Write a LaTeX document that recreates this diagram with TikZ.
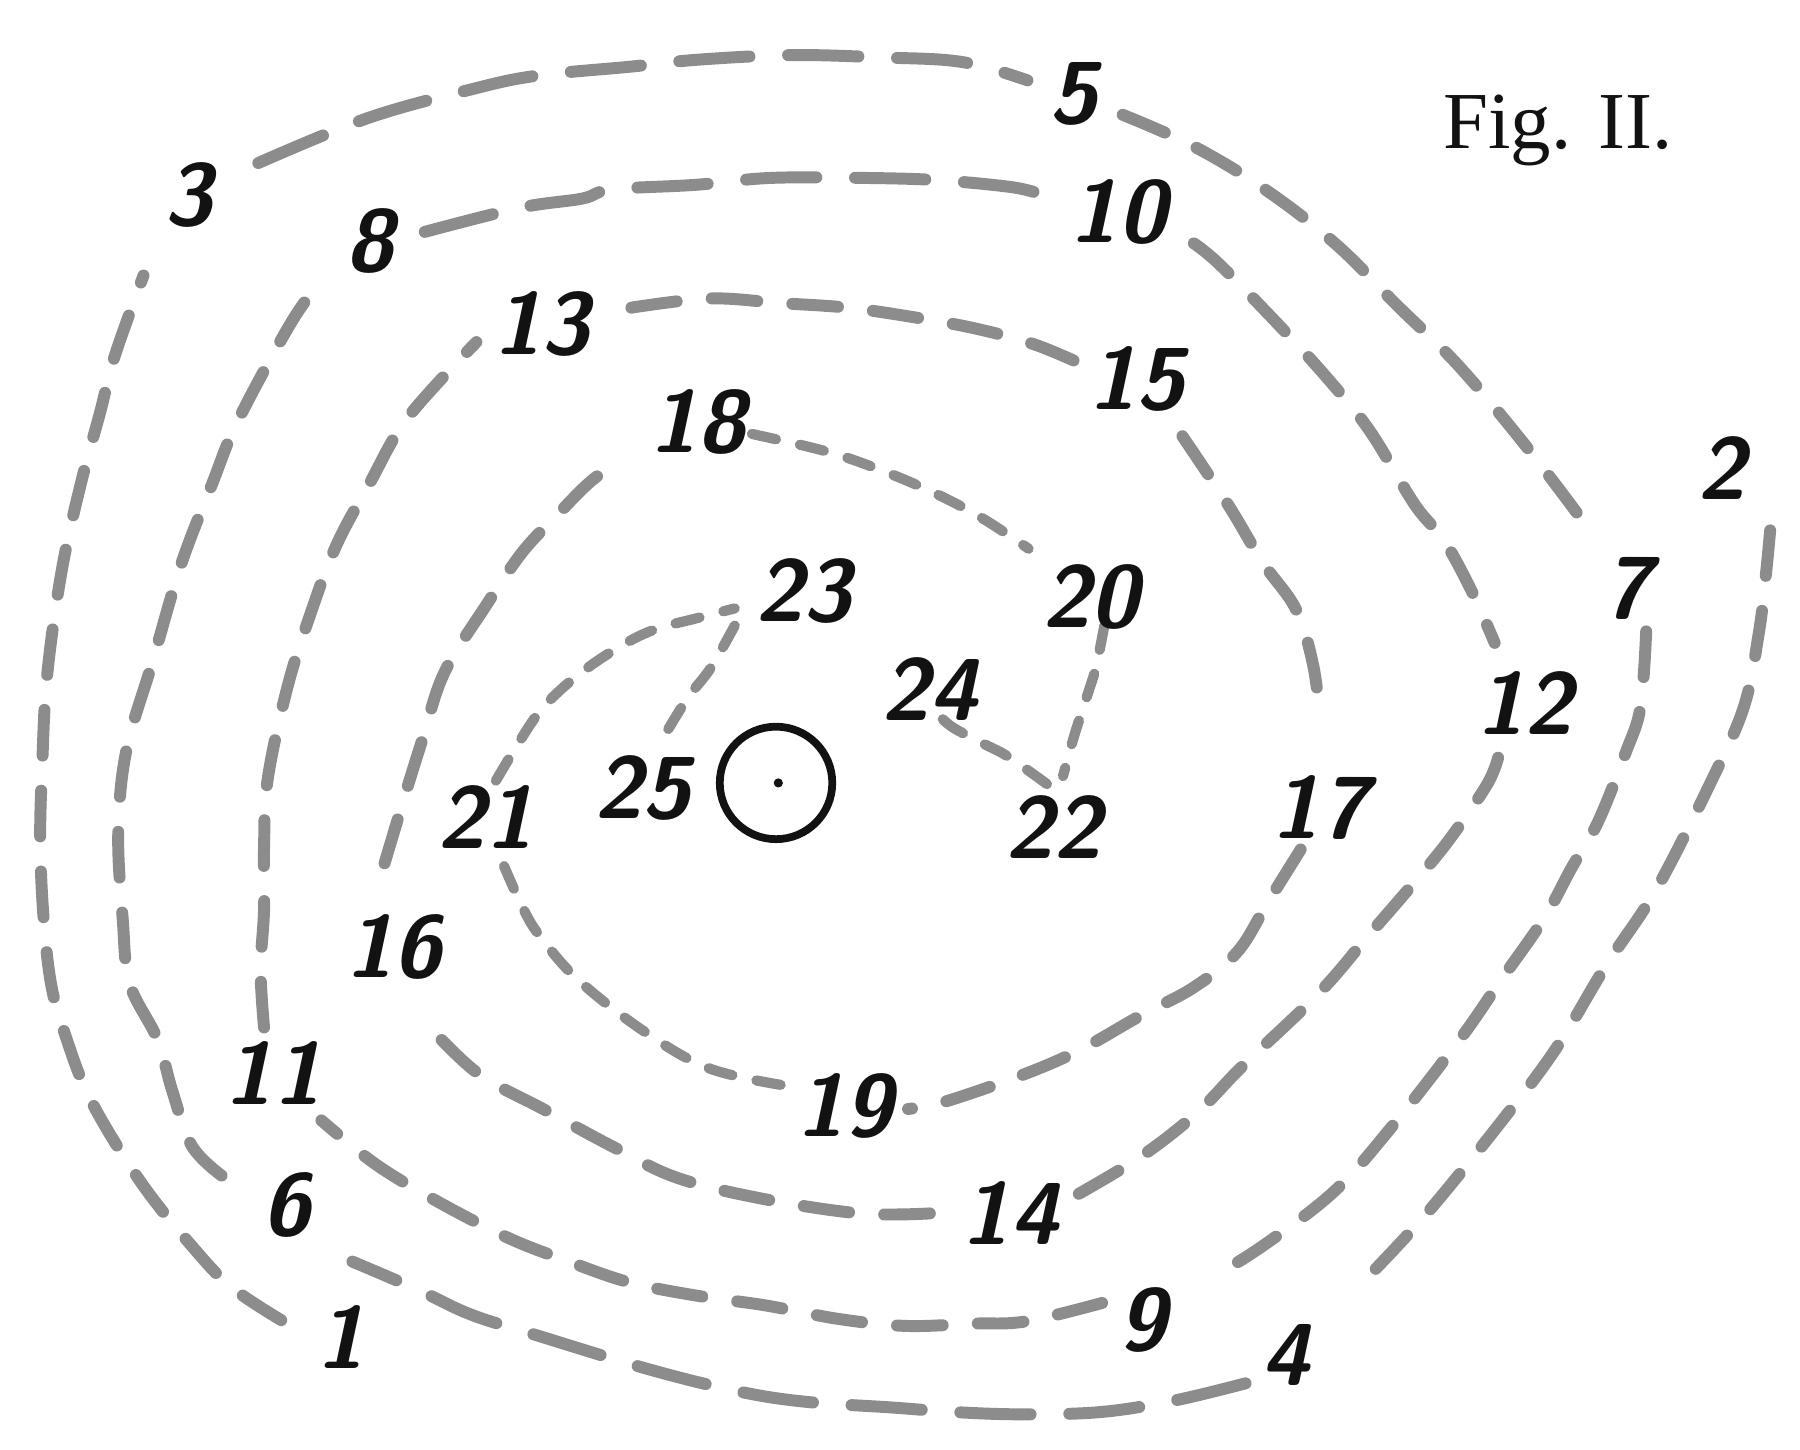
\documentclass[tikz,border=0pt]{standalone}
\usepackage{fontspec}
\newfontfamily\figfont{Liberation Serif}
\definecolor{ink}{RGB}{18,18,18}
\definecolor{wash}{RGB}{140,140,140}
\tikzset{
  spiralline/.style={draw=wash, line width=3.4pt, line cap=round, line join=round},
  longdash/.style={spiralline, dash pattern=on 20pt off 11pt},
  middash/.style={spiralline, dash pattern=on 13pt off 10pt},
  shortdash/.style={spiralline, line width=2.9pt, dash pattern=on 7pt off 7pt},
  num/.style={font=\sffamily\bfseries\itshape\fontsize{25}{25}\selectfont, text=ink, inner sep=0pt},
  figlabel/.style={font=\figfont\fontsize{23}{23}\selectfont, text=ink, inner sep=0pt}
}
\begin{document}
\begin{tikzpicture}[x=0.01148cm, y=-0.01148cm]
\useasboundingbox (0,0) rectangle (1568,1263);
\fill[white] (0,0) rectangle (1568,1263);

% odd spiral
\draw[middash] plot[smooth, tension=0.6] coordinates {(245,1150) (200,1120) (165,1083) (130,1040) (100,995) (75,950) (58,905) (45,860) (38,800) (35,730) (37,660) (40,600) (47,540) (57,480) (72,415) (87,360) (100,310) (125,240)};
\draw[longdash] plot[smooth, tension=0.6] coordinates {(225,142) (320,103) (410,78) (467,66) (550,58) (608,52) (689,48) (767,50) (838,54) (895,70)};
\draw[middash] plot[smooth, tension=0.6] coordinates {(978,100) (1039,127) (1102,165) (1164,213) (1217,266) (1270,318) (1328,387) (1382,458)};
\draw[middash] plot[smooth, tension=0.6] coordinates {(1434,550) (1429,616) (1416,656) (1392,716) (1369,756) (1345,800) (1308,853) (1272,905) (1212,982) (1162,1038) (1099,1086) (1052,1115)};
\draw[middash] plot[smooth, tension=0.6] coordinates {(960,1135) (894,1151) (848,1153) (789,1155) (731,1149) (666,1137) (609,1129) (548,1117) (493,1098) (442,1078) (380,1046) (327,1014) (280,976)};
\draw[middash] plot[smooth, tension=0.6] coordinates {(230,895) (227,845) (230,793) (230,739) (233,680) (250,600) (270,536) (293,475) (322,421) (355,364) (415,298)};
\draw[middash] plot[smooth, tension=0.6] coordinates {(550,268) (618,260) (679,264) (738,268) (794,276) (849,286) (901,300) (944,318)};
\draw[middash] plot[smooth, tension=0.6] coordinates {(1030,380) (1070,440) (1100,490) (1129,531) (1144,580) (1150,628)};
\draw[middash] plot[smooth, tension=0.6] coordinates {(1133,740) (1105,785) (1078,829) (1040,860) (993,885) (940,915) (889,937) (822,960) (791,966)};
\draw[shortdash] plot[smooth, tension=0.6] coordinates {(680,945) (616,930) (559,897) (503,853) (470,815) (455,790) (438,752)};
\draw[shortdash] plot[smooth, tension=0.6] coordinates {(432,680) (450,650) (470,620) (495,595) (529,570) (566,550) (609,538) (640,530)};
\draw[shortdash] plot[smooth, tension=0.6] coordinates {(640,545) (619,582) (599,608) (578,642)};

% even spiral
\draw[middash] plot[smooth, tension=0.6] coordinates {(1542,462) (1538,503) (1532,552) (1519,616) (1489,684) (1442,776) (1399,841) (1355,914) (1307,978) (1242,1058) (1189,1115)};
\draw[longdash] plot[smooth, tension=0.6] coordinates {(1085,1205) (1023,1220) (959,1230) (889,1232) (831,1230) (776,1226) (701,1221) (643,1212) (566,1193) (467,1163) (410,1145) (363,1123) (307,1099)};
\draw[middash] plot[smooth, tension=0.6] coordinates {(193,1024) (167,998) (150,950) (137,905) (113,857) (107,802) (103,726) (110,654) (133,576) (158,491) (185,421) (207,367) (253,282) (280,244)};
\draw[longdash] plot[smooth, tension=0.6] coordinates {(370,202) (453,181) (507,173) (533,165) (606,161) (671,155) (753,155) (818,157) (881,163) (906,169)};
\draw[middash] plot[smooth, tension=0.6] coordinates {(1040,212) (1062,230) (1111,280) (1155,328) (1193,375) (1232,439) (1258,471) (1282,515) (1302,560)};
\draw[middash] plot[smooth, tension=0.6] coordinates {(1305,660) (1295,684) (1262,732) (1230,771) (1192,815) (1149,865) (1082,929) (1043,969) (993,1008) (929,1046)};
\draw[middash] plot[smooth, tension=0.6] coordinates {(810,1057) (749,1057) (663,1044) (590,1026) (536,1000) (473,966) (415,934) (365,885)};
\draw[middash] plot[smooth, tension=0.6] coordinates {(335,752) (353,692) (368,644) (387,586) (423,528) (455,481) (485,449) (515,419) (545,398)};
\draw[shortdash] plot[smooth, tension=0.6] coordinates {(655,378) (719,393) (766,409) (813,429) (855,451) (896,478)};
\draw[shortdash] plot[smooth, tension=0.6] coordinates {(962,545) (955,580) (949,600) (936,640) (926,676)};
\draw[shortdash] plot[smooth, tension=0.6] coordinates {(912,683) (878,659) (855,647) (829,633) (815,620)};

% sun
\draw[ink, line width=2.2pt] (676,682) circle[radius=49];
\fill[ink] (678,682) circle[radius=4];
\node[coordinate] (sun) at (676,682) {};

% labels
\node[num] (n1) at (297,1165) {1};
\node[num] (n2) at (1500,408) {2};
\node[num] (n3) at (164,170) {3};
\node[num] (n4) at (1120,1180) {4};
\node[num] (n5) at (935,82) {5};
\node[num] (n6) at (250,1050) {6};
\node[num] (n7) at (1418,513) {7};
\node[num] (n8) at (322,210) {8};
\node[num] (n9) at (995,1150) {9};
\node[num] (n10) at (974,185) {10};
\node[num] (n11) at (238,935) {11};
\node[num] (n12) at (1328,612) {12};
\node[num] (n13) at (472,282) {13};
\node[num] (n14) at (880,1057) {14};
\node[num] (n15) at (990,330) {15};
\node[num] (n16) at (343,825) {16};
\node[num] (n17) at (1150,703) {17};
\node[num] (n18) at (608,368) {18};
\node[num] (n19) at (736,963) {19};
\node[num] (n20) at (950,520) {20};
\node[num] (n21) at (423,712) {21};
\node[num] (n22) at (918,720) {22};
\node[num] (n23) at (700,515) {23};
\node[num] (n24) at (810,600) {24};
\node[num] (n25) at (560,686) {25};

\node[figlabel] (fig) at (1357,114) {Fig. II.};
\end{tikzpicture}
\end{document}
